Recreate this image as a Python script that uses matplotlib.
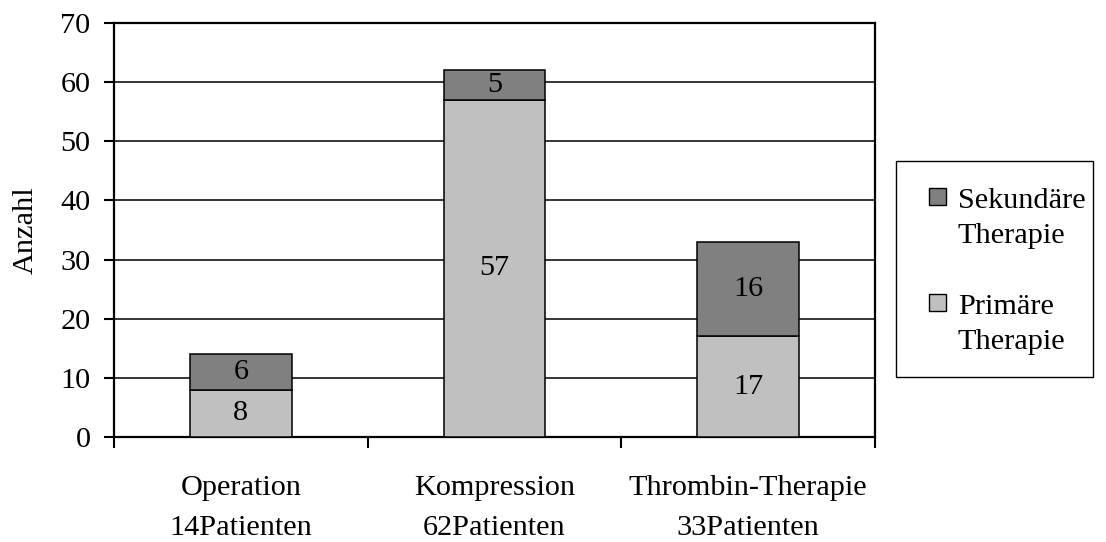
import matplotlib
matplotlib.use("Agg")
import matplotlib.pyplot as plt
from matplotlib.patches import Rectangle
import numpy as np

categories = ["Operation\n14Patienten", "Kompression\n62Patienten", "Thrombin-Therapie\n33Patienten"]
primaer = [8, 57, 17]
sekundaer = [6, 5, 16]
series_names = ["Sekundäre\nTherapie", "Primäre\nTherapie"]
yticks = [0, 10, 20, 30, 40, 50, 60, 70]

plt.rcParams['font.family'] = ['Liberation Serif', 'DejaVu Serif']
FS = 21.8
C_PRI = "#c0c0c0"
C_SEK = "#808080"

W, H = 1106, 542
fig = plt.figure(figsize=(W / 100, H / 100), dpi=100)
L, R, T, B = 114, 875, 23, 437
ax = fig.add_axes([L / W, 1 - B / H, (R - L) / W, (B - T) / H])

x = np.arange(len(categories))
bw = 0.4
ax.bar(x, primaer, bw, color=C_PRI, edgecolor="black", linewidth=1.1, zorder=3)
ax.bar(x, sekundaer, bw, bottom=primaer, color=C_SEK, edgecolor="black", linewidth=1.1, zorder=3)

for xi, p, s in zip(x, primaer, sekundaer):
    ax.text(xi, p / 2, str(p), ha="center", va="center", fontsize=FS, zorder=4)
    ax.text(xi, p + s / 2, str(s), ha="center", va="center", fontsize=FS, zorder=4)

ax.set_xlim(-0.5, len(categories) - 0.5)
ax.set_ylim(0, 70)
ax.set_yticks(yticks)
ax.set_yticklabels([str(v) for v in yticks], fontsize=FS)
ax.yaxis.grid(True, color="black", linewidth=1.1, zorder=0)
ax.set_axisbelow(True)
ax.tick_params(axis="y", direction="out", length=7, width=1.5, pad=10)

# category labels (two lines each, placed below the axis)
ax.set_xticks(x)
ax.set_xticklabels([""] * len(categories))
ax.tick_params(axis="x", which="major", length=0)
for xi, cat in zip(x, categories):
    for k, line in enumerate(cat.split("\n")):
        ax.annotate(line, xy=(xi, 0), xycoords=("data", "axes fraction"),
                    xytext=(0, -58 - 40 * k), textcoords="offset pixels",
                    ha="center", va="baseline", fontsize=FS, annotation_clip=False)
ax.set_xticks(np.arange(-0.5, len(categories), 1.0), minor=True)
ax.tick_params(axis="x", which="minor", direction="out", length=8, width=1.5)

for sp in ax.spines.values():
    sp.set_linewidth(1.6)
    sp.set_color("black")

ax.set_ylabel("Anzahl", fontsize=FS)
ax.yaxis.set_label_coords((39 - L) / (R - L), 0.5)

# legend (manual, figure pixel coordinates)
def fx(px):
    return px / W

def fy(py):
    return 1 - py / H

fig.patches.append(Rectangle((fx(896), fy(377)), fx(1093) - fx(896), fy(161) - fy(377),
                             transform=fig.transFigure, facecolor="white",
                             edgecolor="black", linewidth=1.0))
leg_items = [(C_SEK, series_names[0], 188, 208), (C_PRI, series_names[1], 294, 314)]
for col, lab, sq_top, base in leg_items:
    fig.patches.append(Rectangle((fx(929), fy(sq_top + 17)), fx(946) - fx(929), fy(sq_top) - fy(sq_top + 17),
                                 transform=fig.transFigure, facecolor=col,
                                 edgecolor="black", linewidth=1.0))
    l1, l2 = lab.split("\n")
    fig.text(fx(958), fy(base), l1, fontsize=FS, va="baseline", ha="left")
    fig.text(fx(958), fy(base + 35), l2, fontsize=FS, va="baseline", ha="left")

fig.savefig("out.png", dpi=100)
